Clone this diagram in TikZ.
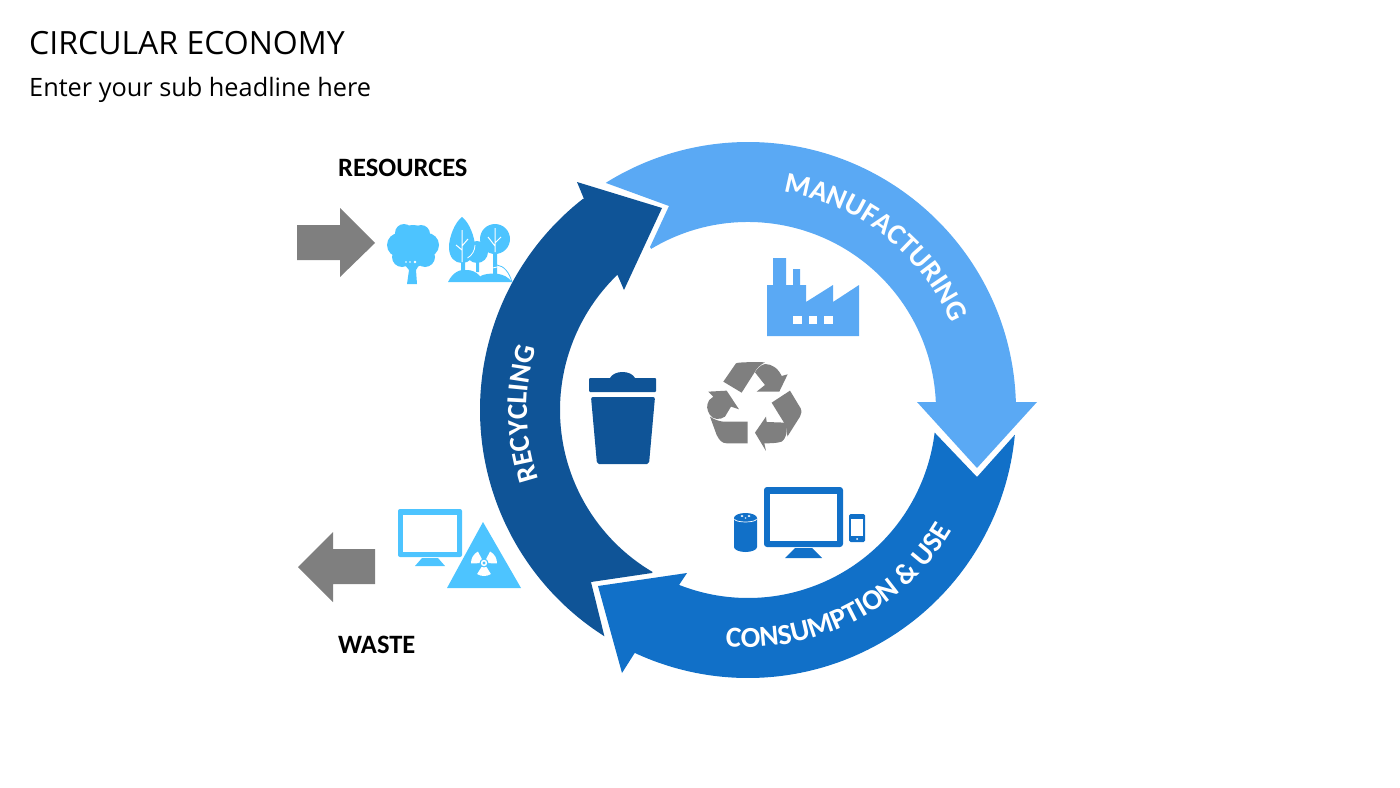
\documentclass[tikz,border=0pt]{standalone}
\usepackage{fontspec}
\setmainfont{Carlito}
\newfontfamily\headfont{Open Sans}
\usetikzlibrary{calc}
\usetikzlibrary{decorations.text}

\definecolor{makeblue}{HTML}{5AA9F4}
\definecolor{useblue}{HTML}{1170C8}
\definecolor{cycleblue}{HTML}{0F5497}
\definecolor{skyblue}{HTML}{4DC4FF}
\definecolor{arrowgray}{HTML}{7F7F7F}

\newcommand{\ringfont}{\fontsize{29}{29}\selectfont\bfseries\color{white}}

\tikzset{
  sidelabel/.style = {anchor = base west, inner sep = 0pt, font = \fontsize{26.5}{30}\selectfont\bfseries},
  headtext/.style = {anchor = base west, inner sep = 0pt, text = black},
  ringtext/.style = {decorate, decoration = {text along path, text align = center, text = {#1}}}
}

\begin{document}
\begin{tikzpicture}[x = 1pt, y = 1pt, yscale = -1]
  \useasboundingbox (0, 0) rectangle (1400, 787);
  \coordinate (ring) at (748, 410);

  \node[headtext, font = \headfont\fontsize{32}{38}\selectfont] (title) at (29, 54) {CIRCULAR ECONOMY};
  \node[headtext, font = \headfont\fontsize{25.3}{30}\selectfont] (subtitle) at (29, 96) {Enter your sub headline here};
  \node[sidelabel] (resources) at (338, 176) {RESOURCES};
  \node[sidelabel] (waste) at (338, 653) {WASTE};

  % ring
  \fill[makeblue] (606, 183) -- (669, 206) -- (650, 247) -- ($(ring) + (-121:188)$)
  arc[start angle = -121, end angle = -2.4, radius = 188] -- (917, 402) -- (977, 468) -- (1037, 402)
  -- ($(ring) + (-1.7:268)$) arc[start angle = -1.7, end angle = -122, radius = 268] -- cycle;

  \fill[useblue] (977, 477) -- ($(ring) + (5.3:268)$)
  arc[start angle = 5.3, end angle = 115, radius = 268] -- (622, 673) -- (598, 586) -- (687, 573) -- (679, 585)
  -- ($(ring) + (111.5:188)$) arc[start angle = 111.5, end angle = 6.9, radius = 188] -- cycle;

  \fill[cycleblue] (591, 582) -- (652, 573) -- ($(ring) + (120.5:188)$)
  arc[start angle = 120.5, end angle = 226, radius = 188] -- (624, 290) -- (662, 208) -- (577, 182) -- (584, 199)
  -- ($(ring) + (232:268)$) arc[start angle = 232, end angle = 122.4, radius = 268] -- cycle;

  % text on the ring, y axis turned back up
  \begin{scope}[yscale = -1]
    \path[ringtext = {|\ringfont|MANUFACTURING}] ($(748, -410) + (92:221)$) arc[start angle = 92, end angle = 12, radius = 221];
    \path[ringtext = {|\ringfont|CONSUMPTION {\&} USE}] ($(748, -410) + (-108:237)$) arc[start angle = -108, end angle = -18, radius = 237];
    \path[ringtext = {|\ringfont|RECYCLING}] ($(748, -410) + (226:221)$) arc[start angle = 226, end angle = 136, radius = 221];
  \end{scope}

  % side arrows
  \fill[arrowgray] (297, 225) -- (340, 225) -- (340, 208) -- (375, 243) -- (340, 277) -- (340, 260) -- (297, 260) -- cycle;
  \fill[arrowgray] (375, 549) -- (333, 549) -- (333, 532) -- (298, 567) -- (333, 602) -- (333, 584) -- (375, 584) -- cycle;

  % tree
  \fill[skyblue] (413, 246) circle[radius = 21]
  (399, 245) circle[radius = 12] (427, 245) circle[radius = 12]
  (404, 233) circle[radius = 9] (421, 234) circle[radius = 9]
  (402, 257) circle[radius = 10] (425, 257) circle[radius = 10] (413, 259) circle[radius = 9];
  \fill[skyblue] (404, 264) -- (409, 270) -- (407, 284) -- (417, 284) -- (416, 270) -- (421, 262) -- cycle;
  \fill[white] (406, 262) circle[radius = .8] (410, 262) circle[radius = .8] (415, 262) circle[radius = 1.3];

  % forest
  \fill[skyblue] (477, 252) circle[radius = 11];
  \fill[skyblue] (462, 217) .. controls (455, 222) and (449, 237) .. (449, 247)
  .. controls (449, 258) and (455, 263) .. (462, 263)
  .. controls (469, 263) and (475, 258) .. (475, 247)
  .. controls (475, 237) and (469, 222) .. (462, 217) -- cycle;
  \fill[skyblue] (495, 239) circle[radius = 15];
  \draw[white, line width = .8pt] (475, 245) arc[start angle = 0, end angle = 60, radius = 15];
  \fill[skyblue] (461, 260) rectangle (465, 272) (476, 262) rectangle (479, 272) (493, 252) rectangle (497, 276);
  \draw[white, line width = 1pt] (462, 230) -- (462, 262) (462, 246) -- (468, 239) (462, 250) -- (456, 245)
  (495, 228) -- (495, 252) (495, 243) -- (501, 237) (495, 246) -- (488, 237);
  \fill[skyblue] (448, 282) .. controls (453, 272) and (460, 269) .. (467, 270)
  .. controls (472, 270) and (476, 272) .. (480, 276) .. controls (490, 272) and (505, 272) .. (512, 282) -- cycle;
  \draw[white, line width = .8pt] (480, 276) .. controls (485, 271) and (490, 268) .. (497, 267);
  \draw[skyblue, line width = .8pt] (497, 265) .. controls (504, 266) and (509, 272) .. (512, 282);

  % old screen and radiation sign
  \fill[skyblue, rounded corners = 2pt] (398, 509) rectangle (462, 557);
  \fill[white] (403, 515) rectangle (457, 552);
  \fill[skyblue] (422, 558) -- (438, 558) -- (445, 566) -- (415, 566) -- cycle;
  \fill[skyblue] (483, 522) -- (521, 588) -- (447, 588) -- cycle;
  \begin{scope}[shift = {(484, 563)}]
    \foreach \blade in {90, 210, 330} {
      \fill[white] (\blade - 32:4.5) -- (\blade - 32:13) arc[start angle = \blade - 32, end angle = \blade + 32, radius = 13]
      -- (\blade + 32:4.5) arc[start angle = \blade + 32, end angle = \blade - 32, radius = 4.5] -- cycle;
    }
    \fill[white] (0, 0) circle[radius = 3.2];
    \fill[skyblue] (0, 0) circle[radius = 1.6];
  \end{scope}

  % factory
  \fill[makeblue] (767, 336) -- (767, 285) -- (773, 285) -- (773, 258) -- (786, 258) -- (786, 285) -- (793, 285)
  -- (793, 269) -- (800, 269) -- (800, 285) -- (806, 285) -- (806, 302) -- (833, 285) -- (833, 302) -- (859, 285) -- (859, 336) -- cycle;
  \foreach \window in {793, 808.5, 824} {
    \fill[white] (\window, 316) rectangle ++(8.5, 8);
  }

  % bin
  \fill[cycleblue, rounded corners = 1pt] (589, 378) rectangle (656, 392);
  \fill[cycleblue] (610, 378) .. controls (614, 370) and (631, 370) .. (635, 378) -- cycle;
  \fill[cycleblue, rounded corners = 2pt] (591, 397) -- (655, 397) -- (649, 464) -- (597, 464) -- cycle;

  % recycling sign
  \begin{scope}[shift = {(570, 240)}, scale = .3333, arrowgray]
    \fill (460, 425) -- (498, 370) .. controls (505, 366) and (560, 366) .. (585, 367) .. controls (570, 375) and (560, 385) .. (555, 395) -- (515, 458) -- cycle;
    \fill (585, 372) .. controls (605, 372) and (625, 385) .. (635, 408) -- (653, 403) -- (628, 455) -- (560, 455) -- (585, 435) -- (555, 397) .. controls (562, 385) and (572, 375) .. (585, 372) -- cycle;
    \fill (605, 488) -- (660, 452) -- (692, 505) .. controls (696, 515) and (694, 522) .. (690, 530) -- (652, 590) .. controls (652, 575) and (650, 560) .. (642, 548) -- cycle;
    \fill (645, 548) .. controls (655, 565) and (650, 595) .. (635, 605) .. controls (620, 610) and (600, 610) .. (583, 610) -- (588, 633) -- (555, 578) -- (588, 530) -- (590, 546) -- cycle;
    \fill (420, 530) .. controls (435, 540) and (445, 543) .. (460, 545) -- (533, 545) -- (533, 610) -- (470, 610) .. controls (455, 610) and (448, 600) .. (440, 585) -- cycle;
    \fill (415, 455) -- (470, 452) -- (507, 508) -- (483, 500) -- (465, 530) .. controls (450, 540) and (430, 540) .. (420, 525) .. controls (410, 510) and (408, 495) .. (418, 480) -- (430, 470) -- cycle;
  \end{scope}

  % devices
  \fill[useblue, rounded corners = 3pt] (764, 487) rectangle (843, 547);
  \fill[white] (770, 494) rectangle (837, 541);
  \fill[useblue] (795, 548) -- (812, 548) -- (822, 558) -- (785, 558) -- cycle;
  \fill[useblue] (734, 518) arc[start angle = 180, end angle = 360, x radius = 11.5, y radius = 5] -- (757, 547)
  arc[start angle = 0, end angle = 180, x radius = 11.5, y radius = 5] -- cycle;
  \draw[white, line width = .7pt] (734.5, 519) arc[start angle = 180, end angle = 0, x radius = 11, y radius = 3];
  \fill[white] (742, 516) ellipse[x radius = 1.5, y radius = 1] (749, 516) ellipse[x radius = 1.5, y radius = 1] (745.5, 518) ellipse[x radius = 1, y radius = .7];
  \fill[useblue, rounded corners = 1.5pt] (849, 514) rectangle (865, 542);
  \fill[white] (851, 519) rectangle (863, 536);
  \fill[white] (857, 539) circle[radius = 1];
\end{tikzpicture}
\end{document}
